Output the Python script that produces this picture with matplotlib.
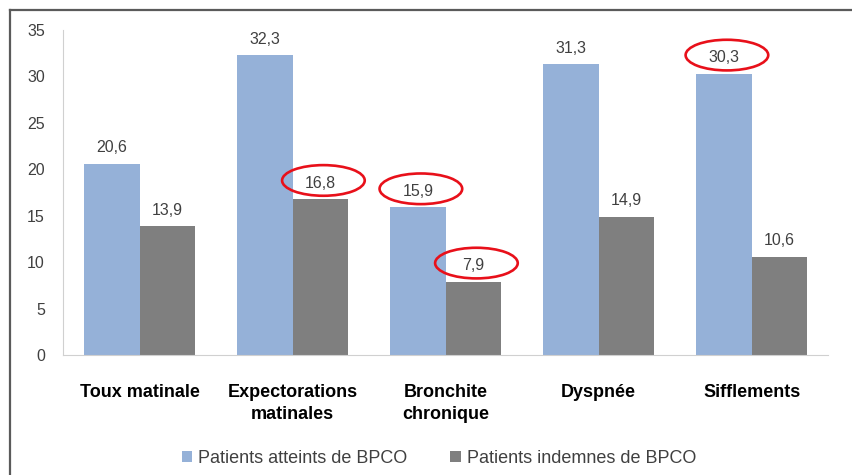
import matplotlib.pyplot as plt
import numpy as np
from matplotlib.lines import Line2D
from matplotlib.patches import Ellipse, Patch

plt.rcParams['font.family'] = ['Liberation Sans', 'DejaVu Sans']

# Data
categories = ["Toux matinale", "Expectorations\nmatinales", "Bronchite\nchronique",
              "Dyspnée", "Sifflements"]
atteints = [20.6, 32.3, 15.9, 31.3, 30.3]
indemnes = [13.9, 16.8, 7.9, 14.9, 10.6]
series_names = ["Patients atteints de BPCO", "Patients indemnes de BPCO"]
# labels circled in red: (series index, category index)
highlighted = [(1, 1), (0, 2), (1, 2), (0, 4)]

blue = "#95B1D8"
grey = "#7F7F7F"
text_col = "#404040"

fig = plt.figure(figsize=(8.52, 4.75), dpi=100)
ax = fig.add_axes([0.074, 0.2526, 0.898, 0.6842])

x = np.arange(len(categories))
w = 0.363
series = [atteints, indemnes]
offsets = [-w / 2, w / 2]
colors = [blue, grey]

for vals, off, col in zip(series, offsets, colors):
    ax.bar(x + off, vals, width=w, color=col, edgecolor="none")
    for xi, v in zip(x, vals):
        ax.text(xi + off, v + 1.7, f"{v:.1f}".replace(".", ","), ha="center",
                va="center", fontsize=11.5, color=text_col)

# red ellipses around selected labels
for s, c in highlighted:
    v = series[s][c]
    ax.add_patch(Ellipse((x[c] + offsets[s] + 0.02, v + 2.0), 0.54, 3.3,
                         fill=False, edgecolor="#E8101A", linewidth=1.9,
                         clip_on=False, zorder=5))

ax.set_xlim(-0.5, len(categories) - 0.5)
ax.set_ylim(0, 35)
ax.set_yticks(range(0, 36, 5))
ax.set_xticks(x)
ax.set_xticklabels(categories, fontsize=13, fontweight="bold", color="black",
                   linespacing=1.35)
ax.tick_params(axis="x", length=0, pad=21)
ax.tick_params(axis="y", length=0, pad=13, labelsize=11.5, labelcolor=text_col)

for side in ["top", "right"]:
    ax.spines[side].set_visible(False)
ax.spines["left"].set_color("#D0D0D0")
ax.spines["bottom"].set_color("#D0D0D0")

handles = [Patch(facecolor=c, edgecolor="none") for c in colors]
fig.legend(handles, series_names, loc="center", bbox_to_anchor=(0.515, 0.035),
           ncol=2, frameon=False, fontsize=13, handlelength=0.6,
           handleheight=0.6, handletextpad=0.3, columnspacing=2.4,
           labelcolor=text_col)

# picture frame (top and left edges)
fig.add_artist(Line2D([10 / 852, 1], [1 - 10 / 475, 1 - 10 / 475],
                      transform=fig.transFigure, color="#5A5A5A", linewidth=1.6))
fig.add_artist(Line2D([10 / 852, 10 / 852], [0, 1 - 10 / 475],
                      transform=fig.transFigure, color="#5A5A5A", linewidth=1.6))

fig.savefig("out.png", dpi=100)
